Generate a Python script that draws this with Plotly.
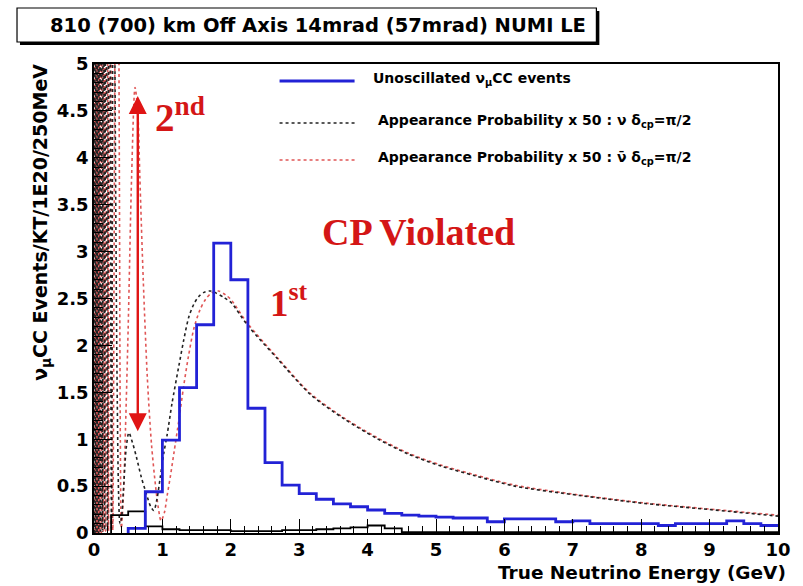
import plotly.graph_objects as go

# ---------------- data ----------------
BIN_EDGES = [0.0, 0.25, 0.5, 0.75, 1.0, 1.25, 1.5, 1.75, 2.0, 2.25, 2.5, 2.75, 3.0, 3.25, 3.5, 3.75,
             4.0, 4.25, 4.5, 4.75, 5.0, 5.25, 5.5, 5.75, 6.0, 6.25, 6.5, 6.75, 7.0, 7.25, 7.5, 7.75,
             8.0, 8.25, 8.5, 8.75, 9.0, 9.25, 9.5, 9.75, 10.0]

UNOSC_NUMU = [0.0, 0.0, 0.05, 0.44, 0.99, 1.55, 2.22, 3.09, 2.70, 1.33, 0.75, 0.51, 0.42, 0.36, 0.31, 0.28,
              0.245, 0.21, 0.19, 0.18, 0.17, 0.16, 0.16, 0.12, 0.15, 0.15, 0.15, 0.12, 0.13, 0.10, 0.10, 0.10,
              0.10, 0.08, 0.10, 0.10, 0.10, 0.13, 0.10, 0.08]

OTHER_HIST = [0.0, 0.19, 0.23, 0.07, 0.04, 0.03, 0.03, 0.03, 0.02, 0.02, 0.02, 0.03, 0.03, 0.04, 0.05, 0.06,
              0.08, 0.05, 0.01, 0.01, 0.01, 0.01, 0.01, 0.01, 0.01, 0.01, 0.01, 0.01, 0.01, 0.01, 0.01, 0.01,
              0.01, 0.01, 0.01, 0.01, 0.01, 0.01, 0.01, 0.01]

NU_E = [0.003, 0.01, 0.02, 0.032, 0.044, 0.056, 0.068, 0.08, 0.093, 0.107, 0.122, 0.138, 0.155, 0.175,
        0.197, 0.225, 0.255, 0.285, 0.31, 0.335, 0.36, 0.38, 0.40, 0.43, 0.47, 0.51, 0.56, 0.62, 0.69,
        0.76, 0.83, 0.875, 0.92, 0.97, 1.02, 1.07, 1.14, 1.24, 1.31, 1.385, 1.46, 1.53, 1.62, 1.70, 1.78,
        1.90, 2.0, 2.25, 2.68, 3.16, 3.65, 4.13, 4.6, 5.09, 5.57, 6.15, 7.1, 8.05, 9.0, 10.0]
NU_P50 = [0.0, 9, 0.0, 9, 0.0, 9, 0.0, 9, 0.02, 9, 0.02, 9, 0.03, 9,
          0.03, 9, 0.05, 7.5, 4.5, 1.8, 0.4, 0.1, 0.15, 0.45, 0.9, 1.07, 0.97, 0.81, 0.60,
          0.43, 0.28, 0.24, 0.36, 0.60, 0.85, 1.05, 1.38, 1.78, 2.05, 2.30, 2.44, 2.52, 2.57, 2.58, 2.56,
          2.51, 2.46, 2.21, 1.86, 1.48, 1.22, 1.01, 0.84, 0.71, 0.61, 0.50, 0.40, 0.315, 0.25, 0.18]

NUBAR_E = [0.005, 0.015, 0.025, 0.035, 0.047, 0.058, 0.07, 0.082, 0.095, 0.108, 0.122, 0.137, 0.153,
           0.17, 0.19, 0.212, 0.24, 0.275, 0.305, 0.34, 0.37, 0.385, 0.40, 0.43, 0.46, 0.50, 0.55, 0.60,
           0.64, 0.67, 0.72, 0.78, 0.84, 0.90, 0.94, 0.98, 1.03, 1.07, 1.12, 1.17, 1.24, 1.31, 1.38, 1.46,
           1.55, 1.63, 1.72, 1.82, 1.92, 2.0, 2.25, 2.68, 3.16, 3.65, 4.13, 4.6, 5.09, 5.57, 6.15, 7.1,
           8.05, 9.0, 10.0]
NUBAR_P50 = [9, 0.0, 9, 0.0, 9, 0.0, 9, 0.0, 9, 0.0, 9, 0.02, 9,
             0.02, 9, 0.02, 9, 0.03, 5.0, 9, 4.0, 1.0, 0.05, 0.4, 1.1, 2.2, 3.8, 4.75,
             4.5, 3.8, 2.7, 1.65, 0.95, 0.5, 0.27, 0.13, 0.22, 0.40, 0.62, 0.86, 1.2, 1.56, 1.88, 2.18,
             2.38, 2.49, 2.56, 2.58, 2.54, 2.49, 2.23, 1.87, 1.49, 1.23, 1.02, 0.85, 0.72, 0.62, 0.51, 0.405,
             0.32, 0.255, 0.19]

X_TICKS = [0, 1, 2, 3, 4, 5, 6, 7, 8, 9, 10]
Y_TICKS = [0, 0.5, 1, 1.5, 2, 2.5, 3, 3.5, 4, 4.5, 5]
Y_TICK_TEXT = ["0", "0.5", "1", "1.5", "2", "2.5", "3", "3.5", "4", "4.5", "5"]

TITLE = "810 (700) km Off Axis 14mrad (57mrad) NUMI LE"
X_TITLE = "True Neutrino Energy (GeV)"
Y_TITLE = "ν<sub>μ</sub>CC Events/KT/1E20/250MeV"
LEG_LABELS = ["Unoscillated ν<sub>μ</sub>CC events",
              "Appearance Probability x 50 : ν δ<sub>cp</sub>=π/2",
              "Appearance Probability x 50 : ν\u0304 δ<sub>cp</sub>=π/2"]

# ---------------- styles ----------------
BLUE = "#2222d6"
RED_DOT = "#e05656"
BLACK_DOT = "#222222"
RED_TXT = "#d41616"
SANS = "DejaVu Sans, Liberation Sans, Arial, sans-serif"
SERIF = "Liberation Serif, Times New Roman, serif"


def hist_steps(edges, vals):
    start = next(i for i, v in enumerate(vals) if v > 0)
    xs = [edges[start]] + list(edges[start:])
    ys = [0.0] + list(vals[start:]) + [vals[-1]]
    return xs, ys


fig = go.Figure()

bx, by = hist_steps(BIN_EDGES, UNOSC_NUMU)
ox, oy = hist_steps(BIN_EDGES, OTHER_HIST)

fig.add_trace(go.Scatter(x=NUBAR_E, y=NUBAR_P50, mode="lines",
                         line=dict(color=RED_DOT, width=1.6, dash="dot", shape="spline", smoothing=0.8),
                         showlegend=False, hoverinfo="skip"))
fig.add_trace(go.Scatter(x=NU_E, y=NU_P50, mode="lines",
                         line=dict(color=BLACK_DOT, width=1.6, dash="dot", shape="spline", smoothing=0.8),
                         showlegend=False, hoverinfo="skip"))
fig.add_trace(go.Scatter(x=ox, y=oy, mode="lines", line=dict(color="black", width=1.8, shape="hv"),
                         showlegend=False, hoverinfo="skip"))
fig.add_trace(go.Scatter(x=bx, y=by, mode="lines", line=dict(color=BLUE, width=2.8, shape="hv"),
                         showlegend=False, hoverinfo="skip"))

# plot area geometry (pixels)
L, R, T, B = 94, 16, 64, 53
W, H = 803, 586
PW, PH = W - L - R, H - T - B


def px2x(px):
    return (px - L) / PW


def py2y(py):
    return (H - B - py) / PH


shapes = []
annotations = []

# title box with shadow
shapes.append(dict(type="rect", xref="paper", yref="paper", x0=px2x(19), x1=px2x(606),
                   y0=py2y(45), y1=py2y(11), fillcolor="black", line=dict(width=0), layer="above"))
shapes.append(dict(type="rect", xref="paper", yref="paper", x0=px2x(16), x1=px2x(603),
                   y0=py2y(42), y1=py2y(8), fillcolor="white", line=dict(color="black", width=1.2),
                   layer="above"))
annotations.append(dict(text="<b>" + TITLE + "</b>", xref="paper", yref="paper", x=px2x(321), y=py2y(25),
                        xanchor="center", yanchor="middle", showarrow=False,
                        font=dict(family=SANS, size=19.5, color="black")))

# axis titles
annotations.append(dict(text="<b>" + Y_TITLE + "</b>", xref="paper", yref="paper", x=px2x(40), y=py2y(222),
                        xanchor="center", yanchor="middle", textangle=-90, showarrow=False,
                        font=dict(family=SANS, size=19, color="black")))
annotations.append(dict(text="<b>" + X_TITLE + "</b>", xref="paper", yref="paper", x=px2x(797), y=py2y(572),
                        xanchor="right", yanchor="middle", showarrow=False,
                        font=dict(family=SANS, size=18.5, color="black")))

# legend (drawn manually)
leg_styles = [dict(color=BLUE, width=2.8, dash="solid"),
              dict(color=BLACK_DOT, width=1.4, dash="dot"),
              dict(color=RED_DOT, width=1.4, dash="dot")]
leg_py = [81, 123, 160]
leg_tx = [375, 380, 380]
for lab, sty, py, tx in zip(LEG_LABELS, leg_styles, leg_py, leg_tx):
    shapes.append(dict(type="line", xref="paper", yref="paper", x0=px2x(282), x1=px2x(358),
                       y0=py2y(py), y1=py2y(py), line=sty))
    annotations.append(dict(text="<b>" + lab + "</b>", xref="paper", yref="paper", x=px2x(tx), y=py2y(py - 2),
                            xanchor="left", yanchor="middle", showarrow=False,
                            font=dict(family=SANS, size=14, color="black")))

# red annotations
annotations.append(dict(text="<b>CP Violated</b>", x=4.75, y=3.21, xref="x", yref="y", showarrow=False,
                        xanchor="center", yanchor="middle", font=dict(family=SERIF, size=38, color=RED_TXT)))
annotations.append(dict(text="<b>1<sup>st</sup></b>", x=2.54, y=2.48, xref="x", yref="y", showarrow=False,
                        xanchor="left", yanchor="middle", font=dict(family=SERIF, size=37, color=RED_TXT)))
annotations.append(dict(text="<b>2<sup>nd</sup></b>", x=0.86, y=4.46, xref="x", yref="y", showarrow=False,
                        xanchor="left", yanchor="middle", font=dict(family=SERIF, size=39, color=RED_TXT)))
annotations.append(dict(text="", x=0.64, y=4.66, ax=0.64, ay=1.07, xref="x", yref="y", axref="x", ayref="y",
                        showarrow=True, arrowside="end+start", arrowhead=2, startarrowhead=2,
                        arrowsize=1.5, startarrowsize=1.5, arrowwidth=2.4, arrowcolor="#e01414"))

fig.update_layout(
    width=W, height=H, autosize=False,
    margin=dict(l=L, r=R, t=T, b=B, pad=0),
    paper_bgcolor="white", plot_bgcolor="white",
    showlegend=False,
    shapes=shapes, annotations=annotations,
    font=dict(family=SANS, color="black"),
)
fig.update_xaxes(range=[0, 10], tickvals=X_TICKS, ticks="inside", ticklen=14, tickwidth=1.3, tickcolor="black",
                 minor=dict(dtick=0.2, ticks="inside", ticklen=7, tickwidth=1.1, tickcolor="black"),
                 showline=True, linecolor="black", linewidth=1.6, mirror=True, showgrid=False, zeroline=False,
                 tickfont=dict(family=SANS, size=18, color="black", weight="bold"), fixedrange=True)
fig.update_yaxes(range=[0, 5], tickvals=Y_TICKS, ticktext=Y_TICK_TEXT, ticks="inside", ticklen=18, tickwidth=1.3,
                 tickcolor="black",
                 minor=dict(dtick=0.1, ticks="inside", ticklen=9, tickwidth=1.1, tickcolor="black"),
                 showline=True, linecolor="black", linewidth=1.6, mirror=True, showgrid=False, zeroline=False,
                 tickfont=dict(family=SANS, size=18, color="black", weight="bold"), fixedrange=True)

fig.write_html("out.html")
